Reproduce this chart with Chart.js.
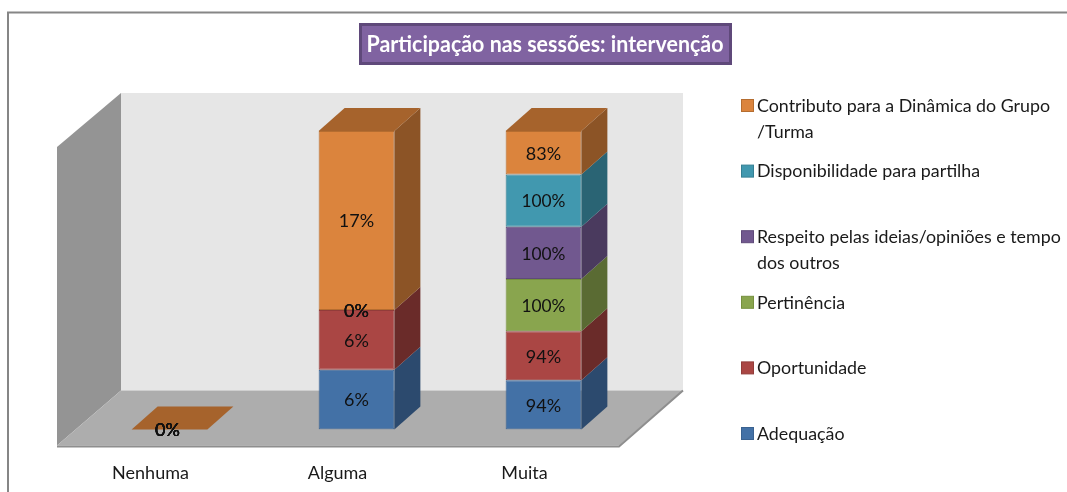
<!DOCTYPE html>
<html lang="pt">
<head>
<meta charset="utf-8">
<title>Participação nas sessões: intervenção</title>
<style>html,body{margin:0;padding:0;background:#fff;overflow:hidden}canvas{display:block}</style>
<script src="https://cdn.jsdelivr.net/npm/chart.js@4"></script>
</head>
<body>
<canvas id="c" width="1067" height="492"></canvas>
<script>
const chartTitle = 'Participação nas sessões: intervenção';
const categories = ['Nenhuma', 'Alguma', 'Muita'];
const adequacao = [0, 5.8, 94];
const oportunidade = [0, 5.8, 94];
const pertinencia = [0, 0, 100];
const respeito = [0, 0, 100];
const disponibilidade = [0, 0, 100];
const contributo = [0, 17.4, 83];

const seriesNames = ['Adequação', 'Oportunidade', 'Pertinência', 'Respeito pelas ideias/opiniões e tempo dos outros', 'Disponibilidade para partilha', 'Contributo para a Dinâmica do Grupo /Turma'];
const legendLines = [['Adequação'], ['Oportunidade'], ['Pertinência'], ['Respeito pelas ideias/opiniões e tempo', 'dos outros'], ['Disponibilidade para partilha'], ['Contributo para a Dinâmica do Grupo', '/Turma']];
const seriesValues = [adequacao, oportunidade, pertinencia, respeito, disponibilidade, contributo];
const frontColors = ['#4371A6', '#AA4644', '#89A54E', '#71588F', '#4198AF', '#DB843D'];
const edgeColors = ['#3A6290', '#923C3A', '#76903F', '#5F4A7A', '#357F93', '#B56D30'];
const sideColors = ['#2C4A6E', '#6A2B29', '#5A6B33', '#4A3A5E', '#2A6474', '#8C5426'];
const topColor = '#A6632C';

const FONT = 'Lato, Carlito, Calibri, sans-serif';
const DEPTH_X = 26, DEPTH_Y = 23;

const totals = categories.map((_, j) => seriesValues.reduce((s, v) => s + v[j], 0));
const datasets = seriesValues.map((vals, i) => ({
  label: seriesNames[i],
  data: vals.map((v, j) => totals[j] ? v / totals[j] * 100 : 0),
  backgroundColor: frontColors[i],
  borderColor: edgeColors[i],
  borderWidth: ctx => (ctx.raw === 0 ? 0 : 1),
  borderSkipped: false,
  barPercentage: 0.405,
  categoryPercentage: 1
}));

function poly(ctx, pts, fill) {
  ctx.beginPath();
  pts.forEach((p, i) => i ? ctx.lineTo(p[0], p[1]) : ctx.moveTo(p[0], p[1]));
  ctx.closePath();
  ctx.fillStyle = fill;
  ctx.fill();
}

const scene3d = {
  id: 'scene3d',
  beforeDatasetsDraw(chart) {
    const ctx = chart.ctx;
    const a = chart.chartArea;
    const fl = a.left - 19, fr = a.right - 18, fb = a.bottom + 16, ft = a.top + 16;
    const bl = fl + 64, br = fr + 64, bb = fb - 55, bt = ft - 54;
    ctx.save();
    // chart frame
    ctx.strokeStyle = '#868686';
    ctx.lineWidth = 2;
    ctx.beginPath();
    ctx.moveTo(8, 492); ctx.lineTo(8, 12.5); ctx.lineTo(1067, 12.5);
    ctx.stroke();
    // walls and floor
    poly(ctx, [[bl, bt], [br, bt], [br, bb], [bl, bb]], '#E6E6E6');
    poly(ctx, [[fl, ft], [bl, bt], [bl, bb], [fl, fb]], '#949494');
    poly(ctx, [[bl, bb], [br, bb], [fr, fb], [fl, fb]], '#ADADAD');
    ctx.strokeStyle = '#8E8E8E';
    ctx.lineWidth = 2;
    ctx.beginPath(); ctx.moveTo(fl, fb + 1); ctx.lineTo(fr, fb + 1); ctx.lineTo(br, bb); ctx.stroke();
    // bar sides and top
    chart.data.datasets.forEach((ds, i) => {
      chart.getDatasetMeta(i).data.forEach(bar => {
        const l = bar.x - bar.width / 2, r = bar.x + bar.width / 2;
        if (bar.base - bar.y > 0.01) {
          poly(ctx, [[r, bar.y], [r + DEPTH_X, bar.y - DEPTH_Y], [r + DEPTH_X, bar.base - DEPTH_Y], [r, bar.base]], sideColors[i]);
        }
        if (i === chart.data.datasets.length - 1) {
          poly(ctx, [[l, bar.y], [l + DEPTH_X, bar.y - DEPTH_Y], [r + DEPTH_X, bar.y - DEPTH_Y], [r, bar.y]], topColor);
        }
      });
    });
    ctx.restore();
  },
  afterDatasetsDraw(chart) {
    const ctx = chart.ctx;
    ctx.save();
    // value labels
    ctx.font = '18px ' + FONT;
    ctx.textAlign = 'center';
    ctx.textBaseline = 'middle';
    ctx.fillStyle = '#111';
    chart.data.datasets.forEach((ds, i) => {
      chart.getDatasetMeta(i).data.forEach((bar, j) => {
        const shift = j === 0 ? -2 : 0;
        ctx.fillText(Math.round(seriesValues[i][j]) + '%', bar.x + shift, (bar.y + bar.base) / 2 + 1, 44);
      });
    });
    // title box
    ctx.fillStyle = '#8063A1';
    ctx.strokeStyle = '#5F497A';
    ctx.lineWidth = 3;
    ctx.beginPath();
    ctx.rect(360.5, 24.5, 370, 39);
    ctx.fill();
    ctx.stroke();
    ctx.fillStyle = '#FFFFFF';
    ctx.font = 'bold 22px ' + FONT;
    ctx.fillText(chartTitle, 545, 45, 357);
    // legend, top entry first
    ctx.textAlign = 'left';
    ctx.font = '18px ' + FONT;
    for (let i = legendLines.length - 1, row = 0; i >= 0; i--, row++) {
      const y = 106 + row * 65.6;
      ctx.fillStyle = frontColors[i];
      ctx.strokeStyle = edgeColors[i];
      ctx.lineWidth = 1;
      ctx.fillRect(741.5, y - 6.5, 12, 12);
      ctx.strokeRect(741.5, y - 6.5, 12, 12);
      ctx.fillStyle = '#1a1a1a';
      legendLines[i].forEach((line, k) => {
        ctx.fillText(line, 757, y + k * 26, ctx.measureText(line).width * 0.99);
      });
    }
    ctx.restore();
  }
};

new Chart(document.getElementById('c'), {
  type: 'bar',
  data: { labels: categories, datasets },
  plugins: [scene3d],
  options: {
    responsive: false,
    animation: false,
    layout: { padding: { left: 76, right: 430, top: 131, bottom: -25 } },
    plugins: { legend: { display: false }, title: { display: false }, tooltip: { enabled: false } },
    scales: {
      x: {
        stacked: true,
        grid: { display: false, drawTicks: false },
        border: { display: false },
        ticks: { labelOffset: -19, padding: 33, color: '#1a1a1a', autoSkip: false, maxRotation: 0, font: { family: FONT, size: 18 } }
      },
      y: { stacked: true, display: false, min: 0, max: 100 }
    }
  }
});
</script>
</body>
</html>
